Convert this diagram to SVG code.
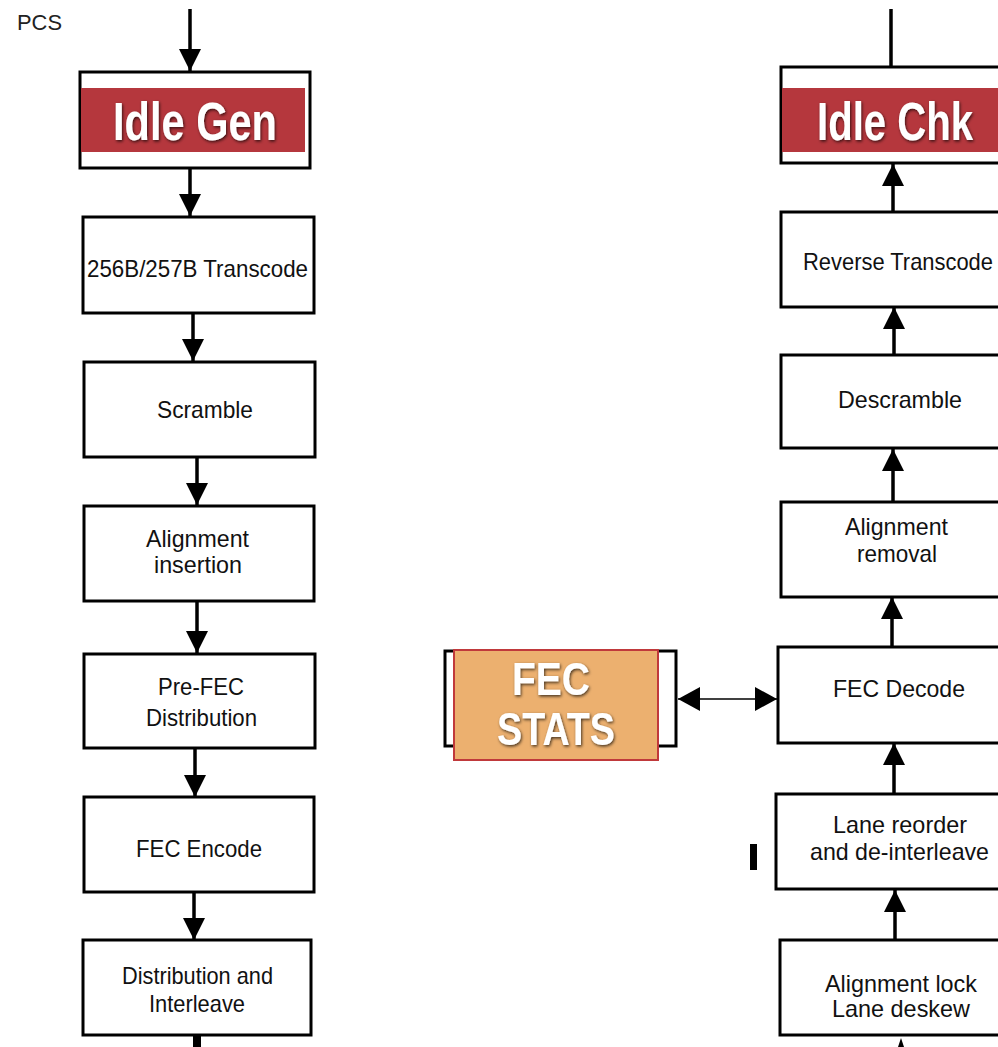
<svg xmlns="http://www.w3.org/2000/svg" width="998" height="1047" viewBox="0 0 998 1047">
<style>
.box{fill:#fff;stroke:#000;stroke-width:3}
.t{font-family:"Liberation Sans",Arial,sans-serif;font-size:24px;fill:#111;text-anchor:middle}
.big{font-family:"Liberation Sans",Arial,sans-serif;font-weight:bold;fill:#fff;filter:url(#sh)}
.c{stroke:#000;stroke-width:3.5;fill:none;marker-end:url(#ah)}
</style>
<defs>
<marker id="ah" markerUnits="userSpaceOnUse" markerWidth="22" markerHeight="22" refX="22" refY="11" orient="auto" viewBox="0 0 22 22">
<path d="M0,0 L22,11 L0,22 z" fill="#000"/>
</marker>
<marker id="ah2" markerUnits="userSpaceOnUse" markerWidth="22" markerHeight="24" refX="22" refY="12" orient="auto-start-reverse" viewBox="0 0 22 24">
<path d="M0,0 L22,12 L0,24 z" fill="#000"/>
</marker>
<filter id="sh" x="-10%" y="-20%" width="120%" height="140%">
<feDropShadow dx="1" dy="1.5" stdDeviation="1.5" flood-color="#000" flood-opacity="0.7"/>
</filter>
</defs>

<text x="17" y="30" font-family="Liberation Sans,Arial,sans-serif" font-size="22" fill="#222" textLength="45" lengthAdjust="spacingAndGlyphs">PCS</text>

<g id="idle-gen">
<rect class="box" x="80" y="72" width="230" height="96"/>
<rect x="81" y="88" width="224" height="64" fill="#b5373d"/>
<text class="big" x="113" y="140" font-size="54" textLength="164" lengthAdjust="spacingAndGlyphs">Idle Gen</text>
</g>
<g id="transcode">
<rect class="box" x="83" y="217" width="231" height="96"/>
<text class="t" x="197.5" y="277" textLength="221" lengthAdjust="spacingAndGlyphs">256B/257B Transcode</text>
</g>
<g id="scramble">
<rect class="box" x="84" y="362" width="231" height="95"/>
<text class="t" x="205" y="418" textLength="96" lengthAdjust="spacingAndGlyphs">Scramble</text>
</g>
<g id="align-ins">
<rect class="box" x="84" y="506" width="230" height="95"/>
<text class="t" x="197.5" y="547" textLength="103" lengthAdjust="spacingAndGlyphs">Alignment</text>
<text class="t" x="198" y="573" textLength="88" lengthAdjust="spacingAndGlyphs">insertion</text>
</g>
<g id="prefec">
<rect class="box" x="84" y="654" width="231" height="94"/>
<text class="t" x="201" y="695" textLength="86" lengthAdjust="spacingAndGlyphs">Pre-FEC</text>
<text class="t" x="201.5" y="726" textLength="111" lengthAdjust="spacingAndGlyphs">Distribution</text>
</g>
<g id="fec-enc">
<rect class="box" x="84" y="797" width="230" height="95"/>
<text class="t" x="199" y="857" textLength="126" lengthAdjust="spacingAndGlyphs">FEC Encode</text>
</g>
<g id="dist-int">
<rect class="box" x="83" y="940" width="228" height="95"/>
<text class="t" x="197.5" y="984" textLength="151" lengthAdjust="spacingAndGlyphs">Distribution and</text>
<text class="t" x="197" y="1012" textLength="96" lengthAdjust="spacingAndGlyphs">Interleave</text>
</g>

<g id="idle-chk">
<rect class="box" x="781" y="67" width="222" height="96"/>
<rect x="782" y="88" width="218" height="64" fill="#b5373d"/>
<text class="big" x="817" y="140" font-size="54" textLength="156" lengthAdjust="spacingAndGlyphs">Idle Chk</text>
</g>
<g id="rev-transcode">
<rect class="box" x="781" y="212" width="222" height="95"/>
<text class="t" x="898" y="270" textLength="190" lengthAdjust="spacingAndGlyphs">Reverse Transcode</text>
</g>
<g id="descramble">
<rect class="box" x="781" y="355" width="222" height="93"/>
<text class="t" x="900" y="408" textLength="124" lengthAdjust="spacingAndGlyphs">Descramble</text>
</g>
<g id="align-rem">
<rect class="box" x="781" y="502" width="222" height="95"/>
<text class="t" x="896.5" y="535" textLength="103" lengthAdjust="spacingAndGlyphs">Alignment</text>
<text class="t" x="897" y="562" textLength="80" lengthAdjust="spacingAndGlyphs">removal</text>
</g>
<g id="fec-dec">
<rect class="box" x="778" y="647" width="225" height="96"/>
<text class="t" x="899" y="697" textLength="132" lengthAdjust="spacingAndGlyphs">FEC Decode</text>
</g>
<g id="lane-reorder">
<rect class="box" x="776" y="794" width="227" height="95"/>
<text class="t" x="900" y="833" textLength="134" lengthAdjust="spacingAndGlyphs">Lane reorder</text>
<text class="t" x="899.5" y="860" textLength="179" lengthAdjust="spacingAndGlyphs">and de-interleave</text>
</g>
<g id="align-lock">
<rect class="box" x="780" y="940" width="223" height="95"/>
<text class="t" x="901" y="992" textLength="152" lengthAdjust="spacingAndGlyphs">Alignment lock</text>
<text class="t" x="901" y="1017" textLength="138" lengthAdjust="spacingAndGlyphs">Lane deskew</text>
</g>

<g id="fec-stats">
<rect class="box" x="445" y="651" width="231" height="95"/>
<rect x="454" y="650" width="204" height="110" fill="#ecb06f" stroke="#c0393b" stroke-width="2"/>
<text class="big" x="512" y="695" font-size="46" textLength="78" lengthAdjust="spacingAndGlyphs">FEC</text>
<text class="big" x="497" y="745" font-size="46" textLength="118" lengthAdjust="spacingAndGlyphs">STATS</text>
</g>

<rect x="750" y="844" width="7" height="26" fill="#000"/>

<g id="connectors">
<line class="c" x1="190" y1="9" x2="190" y2="71"/>
<line class="c" x1="190" y1="168" x2="190" y2="216"/>
<line class="c" x1="193" y1="313" x2="193" y2="361"/>
<line class="c" x1="197" y1="457" x2="197" y2="505"/>
<line class="c" x1="197" y1="601" x2="197" y2="653"/>
<line class="c" x1="195" y1="748" x2="195" y2="797"/>
<line class="c" x1="194" y1="892" x2="194" y2="940"/>
<line x1="197" y1="1035" x2="197" y2="1047" stroke="#000" stroke-width="8"/>
<line x1="891" y1="9" x2="891" y2="67" stroke="#000" stroke-width="3.5"/>
<line class="c" x1="893" y1="212" x2="893" y2="164"/>
<line class="c" x1="894" y1="355" x2="894" y2="307"/>
<line class="c" x1="893" y1="502" x2="893" y2="449"/>
<line class="c" x1="892" y1="647" x2="892" y2="597"/>
<line class="c" x1="894" y1="794" x2="894" y2="743"/>
<line class="c" x1="895" y1="940" x2="895" y2="890"/>
<path d="M901,1038 L904,1047 L898,1047 z" fill="#000"/>
<line x1="678" y1="699" x2="777" y2="699" stroke="#000" stroke-width="1.5" marker-start="url(#ah2)" marker-end="url(#ah2)"/>
</g>
</svg>
